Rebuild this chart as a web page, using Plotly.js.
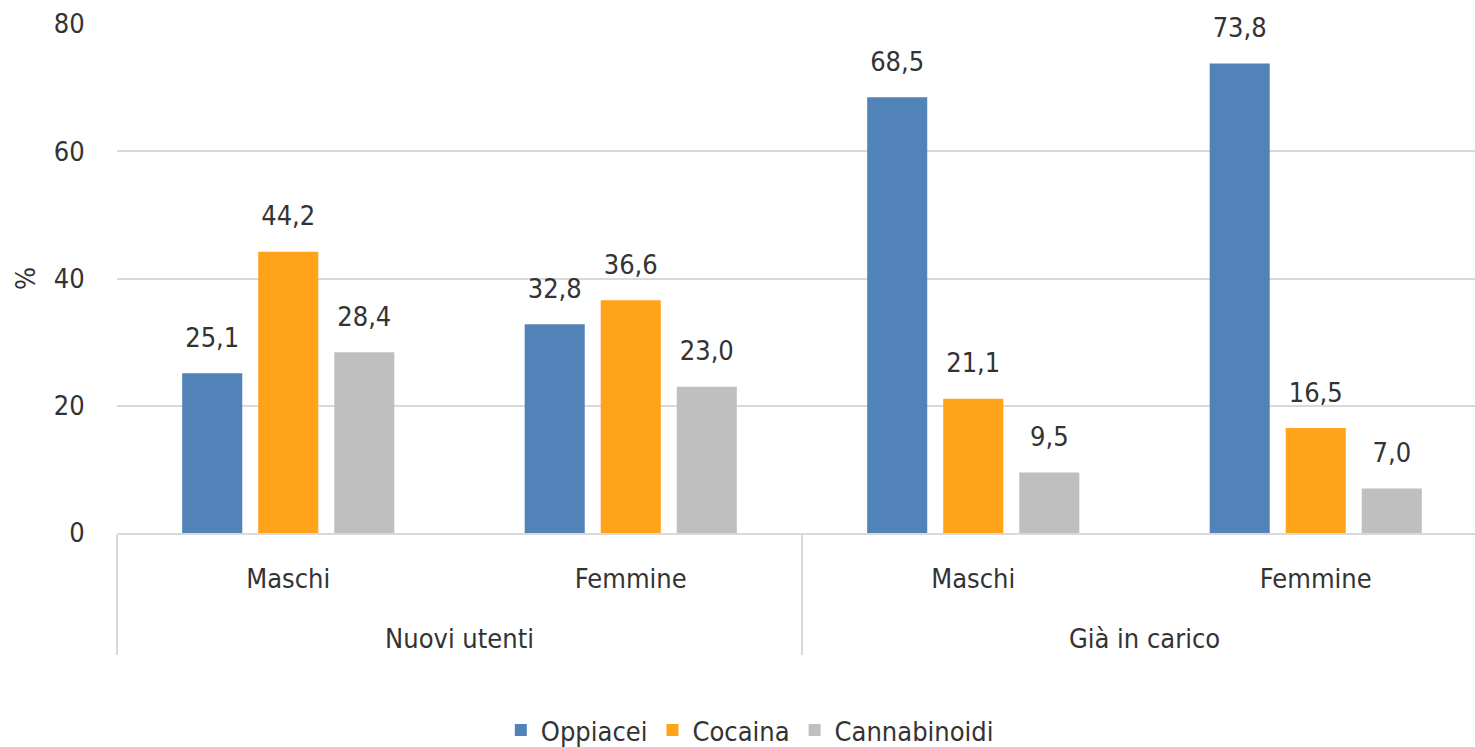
<!DOCTYPE html>
<html><head><meta charset="utf-8">
<script src="https://cdn.plot.ly/plotly-3.0.1.min.js"></script>
<style>html,body{margin:0;padding:0;background:#fff}</style>
</head><body>
<div id="chart" style="width:1475px;height:747px"></div>
<script>
const groups = ["Nuovi utenti","Nuovi utenti","Già in carico","Già in carico"];
const sexes = ["Maschi","Femmine","Maschi","Femmine"];
const oppiacei = [25.1, 32.8, 68.5, 73.8];
const cocaina = [44.2, 36.6, 21.1, 16.5];
const cannabinoidi = [28.4, 23.0, 9.5, 7.0];
const seriesNames = ["Oppiacei","Cocaina","Cannabinoidi"];
const colors = ["#5182b8","#ffa31a","#bfbfbf"];
const yTicks = [0,20,40,60,80];

const FONT = '"Liberation Sans Narrow", "Arial Narrow", "DejaVu Sans Condensed", sans-serif';
const TXT = '#333333';
const SP = '<span style="font-size:2px"> </span>';
const SP2 = '<span style="font-size:9px"> </span>';
const big = s => '<span style="font-size:27px">' + s + '</span>';
// spacer lines around the inner labels reproduce the reference's row spacing
const sexLabels = sexes.map(s => SP + '<br>' + big(s) + '<br>' + SP + '<br>' + SP2);
const groupLabels = groups.map(big);
const vals = [oppiacei, cocaina, cannabinoidi];
const data = vals.map((v,i)=>({
  type:'bar', x:[groupLabels, sexLabels], y:v, name:seriesNames[i],
  marker:{color:colors[i]},
  texttemplate:'<span style="font-size:27px">%{y:.1f}</span><br>' + SP,
  textposition:'outside', cliponaxis:false, constraintext:'none',
  textfont:{family:FONT, size:18, color:TXT},
  hoverinfo:'skip'
}));
const layout = {
  width:1475, height:747,
  margin:{l:117, r:0, t:24, b:214, autoexpand:false},
  separators:', ',
  font:{family:FONT, size:27, color:TXT},
  barmode:'group', bargap:0.334, bargroupgap:0.21,
  showlegend:true,
  legend:{orientation:'h', x:0.466, xanchor:'center', yref:'container', y:0.022, yanchor:'middle', font:{family:FONT,size:27,color:TXT}, itemwidth:30, traceorder:'normal'},
  xaxis:{type:'multicategory', range:[-0.5,3.465], showline:true, linecolor:'#d9d9d9', linewidth:2, showdividers:true, dividercolor:'#d9d9d9', dividerwidth:2, tickfont:{family:FONT,size:21,color:TXT}, ticks:''},
  yaxis:{range:[0,80], tickvals:yTicks, ticktext:yTicks.map(String), showgrid:true, gridcolor:'#d9d9d9', gridwidth:2, zeroline:false, showline:false, ticks:'outside', ticklen:26, tickcolor:'rgba(0,0,0,0)', tickfont:{family:FONT,size:27,color:TXT},
    title:{text:'%', font:{family:FONT,size:27,color:TXT}, standoff:10}},
  plot_bgcolor:'#fff', paper_bgcolor:'#fff'
};
Plotly.newPlot('chart', data, layout, {displayModeBar:false, staticPlot:true});
</script>
</body></html>
